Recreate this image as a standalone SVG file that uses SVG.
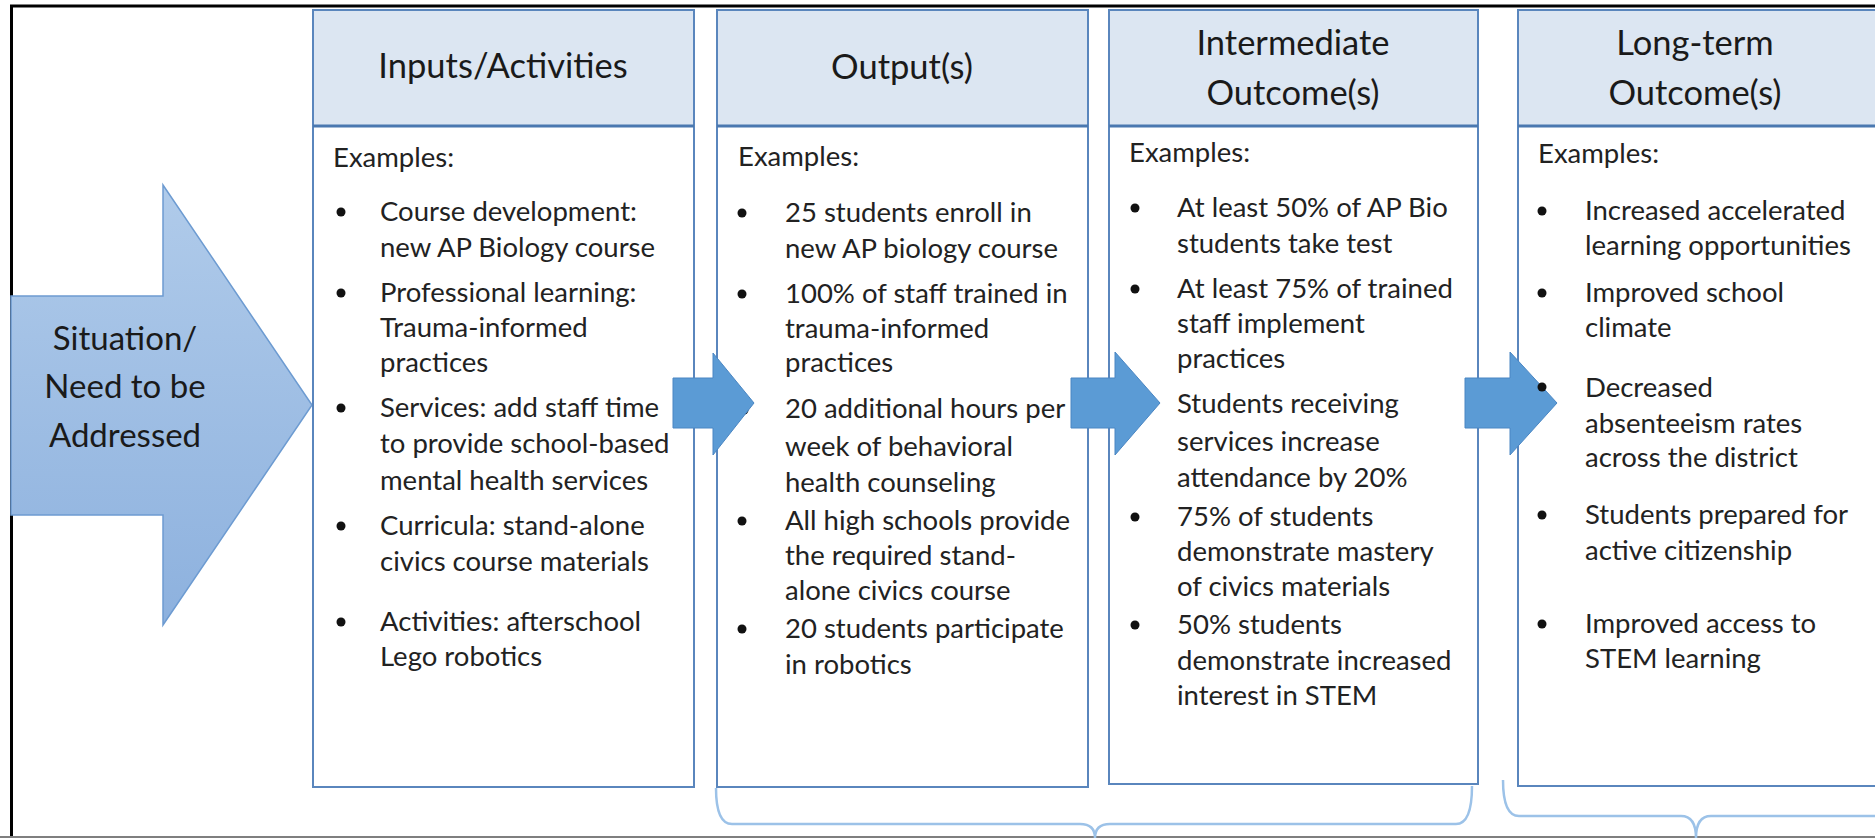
<svg xmlns="http://www.w3.org/2000/svg" width="1875" height="838" viewBox="0 0 1875 838">
<style>
.hdr{font-family:Lato,"Liberation Sans",sans-serif;font-size:34.5px;fill:#1a1a1a;text-anchor:middle}
.bd{font-family:Lato,"Liberation Sans",sans-serif;font-size:27.5px;fill:#222}
.sit{font-family:Lato,"Liberation Sans",sans-serif;font-size:33px;fill:#1a1a1a;text-anchor:middle}
.hbox{fill:#dce6f2;stroke:#5a86bd;stroke-width:2}
.bbox{fill:none;stroke:#5a86bd;stroke-width:2}
.sep{stroke:#4a78b0;stroke-width:3}
.blt{fill:#111}
.arr{fill:#5b9bd5;stroke:#4a86c3;stroke-width:1}
.brace{fill:none;stroke:#9cc2e8;stroke-width:2.5}
</style>
<defs>
<linearGradient id="g1" x1="0" y1="0" x2="0" y2="1">
<stop offset="0" stop-color="#b0cbea"/>
<stop offset="1" stop-color="#8db1de"/>
</linearGradient>
</defs>
<rect x="0" y="0" width="1875" height="838" fill="#ffffff"/>
<g id="frame">
<line x1="10" y1="6" x2="1875" y2="6" stroke="#000" stroke-width="3"/>
<line x1="11.5" y1="5" x2="11.5" y2="838" stroke="#000" stroke-width="3"/>
<line x1="0" y1="837" x2="1875" y2="837" stroke="#7f7f7f" stroke-width="2"/>
</g>
<g id="situation">
<path d="M 11 296 L 163 296 L 163 185 L 312 405 L 163 625 L 163 515 L 11 515 Z" fill="url(#g1)" stroke="#6d9bd1" stroke-width="1.5"/>
<text class="sit" x="125" y="350">Situation/</text>
<text class="sit" x="125" y="398">Need to be</text>
<text class="sit" x="125" y="447">Addressed</text>
</g>
<g id="inputs">
<rect class="hbox" x="313" y="10" width="381" height="116"/>
<rect class="bbox" x="313" y="126" width="381" height="661"/>
<line class="sep" x1="313" y1="126" x2="694" y2="126"/>
<text class="hdr" x="503" y="78">Inputs/Activities</text>
<text class="bd" x="333" y="167">Examples:</text>
<circle class="blt" cx="341" cy="212" r="4.5"/>
<text class="bd" x="380" y="221">Course development:</text>
<text class="bd" x="380" y="257">new AP Biology course</text>
<circle class="blt" cx="341" cy="293" r="4.5"/>
<text class="bd" x="380" y="302">Professional learning:</text>
<text class="bd" x="380" y="337">Trauma-informed</text>
<text class="bd" x="380" y="372">practices</text>
<circle class="blt" cx="341" cy="408" r="4.5"/>
<text class="bd" x="380" y="417">Services: add staff time</text>
<text class="bd" x="380" y="453">to provide school-based</text>
<text class="bd" x="380" y="490">mental health services</text>
<circle class="blt" cx="341" cy="526" r="4.5"/>
<text class="bd" x="380" y="535">Curricula: stand-alone</text>
<text class="bd" x="380" y="571">civics course materials</text>
<circle class="blt" cx="341" cy="622" r="4.5"/>
<text class="bd" x="380" y="631">Activities: afterschool</text>
<text class="bd" x="380" y="666">Lego robotics</text>
</g>
<g id="outputs">
<rect class="hbox" x="717" y="10" width="371" height="116"/>
<rect class="bbox" x="717" y="126" width="371" height="661"/>
<line class="sep" x1="717" y1="126" x2="1088" y2="126"/>
<text class="hdr" x="902" y="79">Output(s)</text>
<text class="bd" x="738" y="166">Examples:</text>
<circle class="blt" cx="742" cy="213" r="4.5"/>
<text class="bd" x="785" y="222">25 students enroll in</text>
<text class="bd" x="785" y="258">new AP biology course</text>
<circle class="blt" cx="742" cy="294" r="4.5"/>
<text class="bd" x="785" y="303">100% of staff trained in</text>
<text class="bd" x="785" y="338">trauma-informed</text>
<text class="bd" x="785" y="372">practices</text>
<circle class="blt" cx="744" cy="410" r="4.5"/>
<text class="bd" x="785" y="418">20 additional hours per</text>
<text class="bd" x="785" y="456">week of behavioral</text>
<text class="bd" x="785" y="492">health counseling</text>
<circle class="blt" cx="742" cy="521" r="4.5"/>
<text class="bd" x="785" y="530">All high schools provide</text>
<text class="bd" x="785" y="565">the required stand-</text>
<text class="bd" x="785" y="600">alone civics course</text>
<circle class="blt" cx="742" cy="629" r="4.5"/>
<text class="bd" x="785" y="638">20 students participate</text>
<text class="bd" x="785" y="674">in robotics</text>
</g>
<g id="intermediate">
<rect class="hbox" x="1109" y="10" width="369" height="116"/>
<rect class="bbox" x="1109" y="126" width="369" height="658"/>
<line class="sep" x1="1109" y1="126" x2="1478" y2="126"/>
<text class="hdr" x="1293" y="55">Intermediate</text>
<text class="hdr" x="1293" y="105">Outcome(s)</text>
<text class="bd" x="1129" y="162">Examples:</text>
<circle class="blt" cx="1135" cy="208" r="4.5"/>
<text class="bd" x="1177" y="217">At least 50% of AP Bio</text>
<text class="bd" x="1177" y="253">students take test</text>
<circle class="blt" cx="1135" cy="289" r="4.5"/>
<text class="bd" x="1177" y="298">At least 75% of trained</text>
<text class="bd" x="1177" y="333">staff implement</text>
<text class="bd" x="1177" y="368">practices</text>
<circle class="blt" cx="1135" cy="404" r="4.5"/>
<text class="bd" x="1177" y="413">Students receiving</text>
<text class="bd" x="1177" y="451">services increase</text>
<text class="bd" x="1177" y="487">attendance by 20%</text>
<circle class="blt" cx="1135" cy="517" r="4.5"/>
<text class="bd" x="1177" y="526">75% of students</text>
<text class="bd" x="1177" y="561">demonstrate mastery</text>
<text class="bd" x="1177" y="596">of civics materials</text>
<circle class="blt" cx="1135" cy="625" r="4.5"/>
<text class="bd" x="1177" y="634">50% students</text>
<text class="bd" x="1177" y="670">demonstrate increased</text>
<text class="bd" x="1177" y="705">interest in STEM</text>
</g>
<g id="longterm">
<rect class="hbox" x="1518" y="10" width="362" height="116"/>
<rect class="bbox" x="1518" y="126" width="362" height="660"/>
<line class="sep" x1="1518" y1="126" x2="1880" y2="126"/>
<text class="hdr" x="1695" y="55">Long-term</text>
<text class="hdr" x="1695" y="105">Outcome(s)</text>
<text class="bd" x="1538" y="163">Examples:</text>
<circle class="blt" cx="1542" cy="211" r="4.5"/>
<text class="bd" x="1585" y="220">Increased accelerated</text>
<text class="bd" x="1585" y="255">learning opportunities</text>
<circle class="blt" cx="1542" cy="293" r="4.5"/>
<text class="bd" x="1585" y="302">Improved school</text>
<text class="bd" x="1585" y="337">climate</text>
<text class="bd" x="1585" y="397">Decreased</text>
<text class="bd" x="1585" y="433">absenteeism rates</text>
<text class="bd" x="1585" y="467">across the district</text>
<circle class="blt" cx="1542" cy="515" r="4.5"/>
<text class="bd" x="1585" y="524">Students prepared for</text>
<text class="bd" x="1585" y="560">active citizenship</text>
<circle class="blt" cx="1542" cy="624" r="4.5"/>
<text class="bd" x="1585" y="633">Improved access to</text>
<text class="bd" x="1585" y="668">STEM learning</text>
</g>
<g id="connectors">
<path class="arr" d="M 673 378 H 713 V 353 L 754 403 L 713 455 V 428 H 673 Z"/>
<path class="arr" d="M 1071 378 H 1115 V 352 L 1160 403 L 1115 455 V 428 H 1071 Z"/>
<path class="arr" d="M 1465 378 H 1510 V 352 L 1557 403 L 1510 455 V 428 H 1465 Z"/>
<path class="brace" d="M 716 788 Q 716 824 732 824 L 1080 824 Q 1095 824 1095 838 M 1095 838 Q 1095 824 1110 824 L 1456 824 Q 1472 824 1472 786"/>
<path class="brace" d="M 1503 780 Q 1503 816 1519 816 L 1681 816 Q 1696 816 1696 838 M 1696 838 Q 1696 816 1711 816 L 1880 816"/>
</g>
<circle id="bullet-decreased" class="blt" cx="1542" cy="387" r="4.5"/>
</svg>
